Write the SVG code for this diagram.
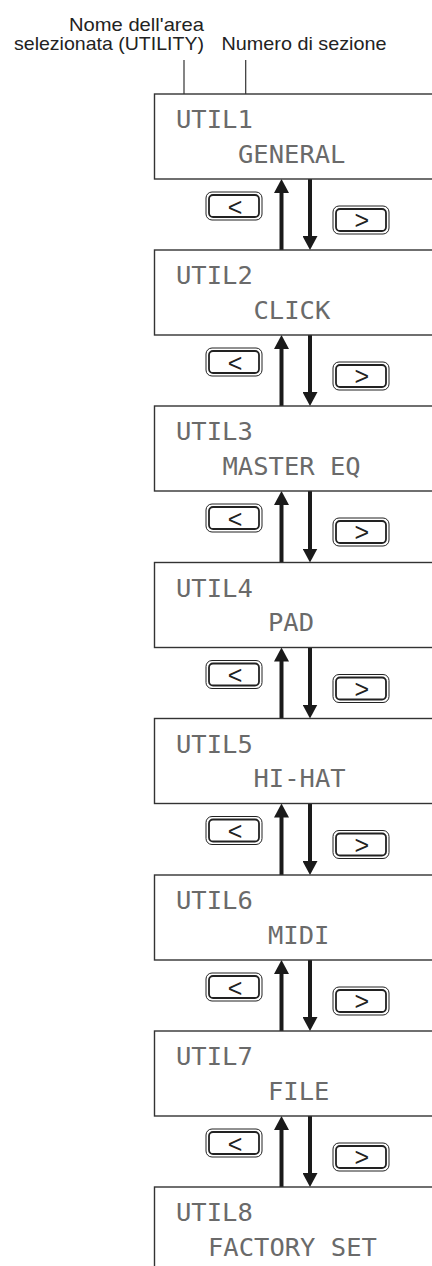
<svg xmlns="http://www.w3.org/2000/svg" width="432" height="1266" viewBox="0 0 432 1266">
<style>
.hdr{font-family:"Liberation Sans",Arial,sans-serif;font-size:18.5px;fill:#222}
.lead{stroke:#333;stroke-width:1.2;fill:none}
.box{fill:#fff;stroke:#333;stroke-width:1.4}
.lcd{font-family:"DejaVu Sans Mono","Liberation Mono",monospace;font-size:25.5px;fill:#6a6a6a}
.ob{fill:#fff;stroke:#222;stroke-width:1}
.ib{fill:#fff;stroke:#222;stroke-width:1.8}
.bt{font-family:"Liberation Sans",Arial,sans-serif;font-size:25px;fill:#222;text-anchor:middle}
.ar{stroke:#1a1a1a;stroke-width:4;fill:none;marker-end:url(#ah)}
</style>
<defs>
<marker id="ah" markerUnits="userSpaceOnUse" markerWidth="14" markerHeight="15" viewBox="0 0 14 15" refX="4" refY="7.5" orient="auto">
<path d="M0,0 L14,7.5 L0,15 z" fill="#1a1a1a"/>
</marker>
</defs>

<g id="header">
<text class="hdr" x="204" y="30.5" text-anchor="end" textLength="135" lengthAdjust="spacingAndGlyphs">Nome dell'area</text>
<text class="hdr" x="204" y="50" text-anchor="end" textLength="190" lengthAdjust="spacingAndGlyphs">selezionata (UTILITY)</text>
<text class="hdr" x="221.5" y="50" textLength="165" lengthAdjust="spacingAndGlyphs">Numero di sezione</text>
<line class="lead" x1="184" y1="60" x2="184" y2="103"/>
<line class="lead" x1="245.7" y1="60" x2="245.7" y2="103"/>
</g>

<g id="connectors">
<line class="ar" x1="281.5" y1="250" x2="281.5" y2="189"/>
<line class="ar" x1="310" y1="179" x2="310" y2="240"/>
<line class="ar" x1="281.5" y1="406" x2="281.5" y2="345"/>
<line class="ar" x1="310" y1="335" x2="310" y2="396"/>
<line class="ar" x1="281.5" y1="562.5" x2="281.5" y2="501"/>
<line class="ar" x1="310" y1="491" x2="310" y2="552.5"/>
<line class="ar" x1="281.5" y1="718.5" x2="281.5" y2="657.5"/>
<line class="ar" x1="310" y1="647.5" x2="310" y2="708.5"/>
<line class="ar" x1="281.5" y1="875" x2="281.5" y2="813.5"/>
<line class="ar" x1="310" y1="803.5" x2="310" y2="865"/>
<line class="ar" x1="281.5" y1="1031" x2="281.5" y2="970"/>
<line class="ar" x1="310" y1="960" x2="310" y2="1021"/>
<line class="ar" x1="281.5" y1="1187" x2="281.5" y2="1126"/>
<line class="ar" x1="310" y1="1116" x2="310" y2="1177"/>
</g>

<g id="util1"><rect class="box" x="154.5" y="94" width="290" height="85"/>
<text class="lcd" x="176" y="128.3">UTIL1</text><text class="lcd" x="238" y="162.7">GENERAL</text></g>
<g id="util2"><rect class="box" x="154.5" y="250" width="290" height="85"/>
<text class="lcd" x="176" y="284.3">UTIL2</text><text class="lcd" x="253.5" y="318.7">CLICK</text></g>
<g id="util3"><rect class="box" x="154.5" y="406" width="290" height="85"/>
<text class="lcd" x="176" y="440.3">UTIL3</text><text class="lcd" x="222.5" y="474.7">MASTER EQ</text></g>
<g id="util4"><rect class="box" x="154.5" y="562.5" width="290" height="85"/>
<text class="lcd" x="176" y="596.8">UTIL4</text><text class="lcd" x="268" y="631.2">PAD</text></g>
<g id="util5"><rect class="box" x="154.5" y="718.5" width="290" height="85"/>
<text class="lcd" x="176" y="752.8">UTIL5</text><text class="lcd" x="253.5" y="787.2">HI-HAT</text></g>
<g id="util6"><rect class="box" x="154.5" y="875" width="290" height="85"/>
<text class="lcd" x="176" y="909.3">UTIL6</text><text class="lcd" x="268" y="943.7">MIDI</text></g>
<g id="util7"><rect class="box" x="154.5" y="1031" width="290" height="85"/>
<text class="lcd" x="176" y="1065.3">UTIL7</text><text class="lcd" x="268" y="1099.7">FILE</text></g>
<g id="util8"><rect class="box" x="154.5" y="1187" width="290" height="85"/>
<text class="lcd" x="176" y="1221.3">UTIL8</text><text class="lcd" x="208" y="1255.7">FACTORY SET</text></g>

<g id="btn-prev-1"><rect class="ob" x="206" y="192" width="56" height="28" rx="6"/><rect class="ib" x="209" y="195" width="50" height="22" rx="4"/><text class="bt" x="235" y="215.5">&lt;</text></g>
<g id="btn-next-1"><rect class="ob" x="333" y="206" width="56" height="28" rx="6"/><rect class="ib" x="336" y="209" width="50" height="22" rx="4"/><text class="bt" x="361.7" y="229.2">&gt;</text></g>
<g id="btn-prev-2"><rect class="ob" x="206" y="348" width="56" height="28" rx="6"/><rect class="ib" x="209" y="351" width="50" height="22" rx="4"/><text class="bt" x="235" y="371.5">&lt;</text></g>
<g id="btn-next-2"><rect class="ob" x="333" y="362" width="56" height="28" rx="6"/><rect class="ib" x="336" y="365" width="50" height="22" rx="4"/><text class="bt" x="361.7" y="385.2">&gt;</text></g>
<g id="btn-prev-3"><rect class="ob" x="206" y="504" width="56" height="28" rx="6"/><rect class="ib" x="209" y="507" width="50" height="22" rx="4"/><text class="bt" x="235" y="527.5">&lt;</text></g>
<g id="btn-next-3"><rect class="ob" x="333" y="518" width="56" height="28" rx="6"/><rect class="ib" x="336" y="521" width="50" height="22" rx="4"/><text class="bt" x="361.7" y="541.2">&gt;</text></g>
<g id="btn-prev-4"><rect class="ob" x="206" y="660.5" width="56" height="28" rx="6"/><rect class="ib" x="209" y="663.5" width="50" height="22" rx="4"/><text class="bt" x="235" y="684">&lt;</text></g>
<g id="btn-next-4"><rect class="ob" x="333" y="674.5" width="56" height="28" rx="6"/><rect class="ib" x="336" y="677.5" width="50" height="22" rx="4"/><text class="bt" x="361.7" y="697.7">&gt;</text></g>
<g id="btn-prev-5"><rect class="ob" x="206" y="816.5" width="56" height="28" rx="6"/><rect class="ib" x="209" y="819.5" width="50" height="22" rx="4"/><text class="bt" x="235" y="840">&lt;</text></g>
<g id="btn-next-5"><rect class="ob" x="333" y="830.5" width="56" height="28" rx="6"/><rect class="ib" x="336" y="833.5" width="50" height="22" rx="4"/><text class="bt" x="361.7" y="853.7">&gt;</text></g>
<g id="btn-prev-6"><rect class="ob" x="206" y="973" width="56" height="28" rx="6"/><rect class="ib" x="209" y="976" width="50" height="22" rx="4"/><text class="bt" x="235" y="996.5">&lt;</text></g>
<g id="btn-next-6"><rect class="ob" x="333" y="987" width="56" height="28" rx="6"/><rect class="ib" x="336" y="990" width="50" height="22" rx="4"/><text class="bt" x="361.7" y="1010.2">&gt;</text></g>
<g id="btn-prev-7"><rect class="ob" x="206" y="1129" width="56" height="28" rx="6"/><rect class="ib" x="209" y="1132" width="50" height="22" rx="4"/><text class="bt" x="235" y="1152.5">&lt;</text></g>
<g id="btn-next-7"><rect class="ob" x="333" y="1143" width="56" height="28" rx="6"/><rect class="ib" x="336" y="1146" width="50" height="22" rx="4"/><text class="bt" x="361.7" y="1166.2">&gt;</text></g>
</svg>
